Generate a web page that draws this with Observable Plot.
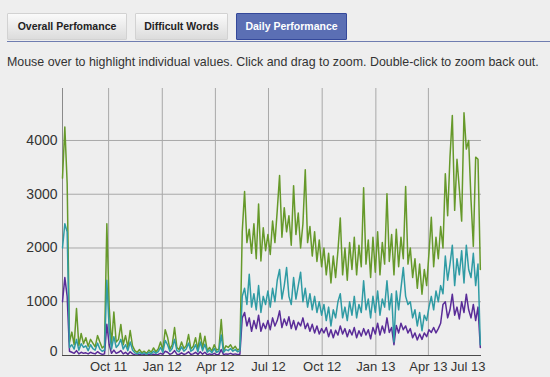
<!DOCTYPE html>
<html>
<head>
<meta charset="utf-8">
<script src="https://cdn.jsdelivr.net/npm/d3@7"></script>
<script src="https://cdn.jsdelivr.net/npm/@observablehq/plot@0.6"></script>
<style>
  html, body { margin: 0; padding: 0; background: #eeeeee; }
  #wrap { position: relative; width: 550px; height: 377px; overflow: hidden; background: #eeeeee; font-family: "Liberation Sans", Arial, sans-serif; }
  .btn { position: absolute; top: 13px; height: 25px; border: 1px solid #d2d2d2; border-radius: 1px;
         background: linear-gradient(#fafafa, #dcdcdc); color: #222; font-weight: bold; font-size: 10.5px;
         line-height: 25px; text-align: center; box-sizing: content-box; }
  .btn.active { background: #5b6fb4; border-color: #34489a; color: #ffffff; }
  #rule { position: absolute; left: 7px; right: 0; top: 41px; height: 0; border-top: 1.5px solid #6f7db0; }
  #note { position: absolute; left: 7px; top: 55px; font-size: 12.4px; color: #333; white-space: nowrap; }
  #chart { position: absolute; left: 0; top: 78px; }
</style>
</head>
<body>
<div id="wrap">
  <div class="btn" style="left:7px;width:118px;">Overall Perfomance</div>
  <div class="btn" style="left:135px;width:91px;">Difficult Words</div>
  <div class="btn active" style="left:236px;width:109px;">Daily Performance</div>
  <div id="rule"></div>
  <div id="note">Mouse over to highlight individual values. Click and drag to zoom. Double-click to zoom back out.</div>
  <div id="chart"></div>
</div>
<script>
// Daily series sampled every 4 days, starting 2011-07-14
const startDate = "2011-07-14";
const stepDays = 4;

const green = [
  3300,4250,3200,250,435,200,875,180,410,220,
  330,170,300,230,160,370,250,140,180,2450,
  900,200,810,250,300,577,200,370,150,465,
  180,90,60,110,50,80,40,100,60,140,
  70,120,250,100,480,340,120,200,520,150,
  110,250,130,180,390,120,170,330,110,415,
  140,360,90,150,80,200,100,120,670,90,
  180,150,200,120,170,100,130,2300,3050,2100,
  2350,1900,2450,1800,2820,1760,2375,1950,2250,1880,
  2500,2100,2700,3350,2200,2750,2300,2600,2050,3160,
  2250,2650,2000,2450,3455,2100,2400,1850,2300,1750,
  2150,1650,2000,1500,1900,1350,1850,1450,1950,2560,
  1500,2000,1400,2100,1600,2200,1500,2050,1650,3120,
  1700,2150,1450,2200,1550,2300,1500,2100,1700,3010,
  1750,2250,1500,2350,1650,2200,1800,3145,1700,2000,
  1450,1800,1250,1700,1140,1600,1300,1900,2570,1650,
  2200,1800,2400,2000,3380,2600,3690,4465,2700,3650,
  3100,2500,4515,3840,4000,2900,2030,3690,3650,1600
];

const teal = [
  2000,2450,2300,150,200,120,300,100,220,150,
  180,90,200,130,100,230,120,80,100,1400,
  500,120,350,150,200,300,120,200,90,250,
  100,50,30,60,30,50,20,60,30,80,
  40,70,150,60,280,200,80,130,300,90,
  70,160,80,120,230,80,110,200,70,250,
  90,210,60,100,50,130,60,80,380,60,
  110,90,130,80,110,70,90,1100,1250,950,
  1510,900,1150,850,1300,800,1100,950,1200,900,
  1250,1000,1400,1600,1050,1300,1635,1100,950,1450,
  1050,1300,1550,1000,1250,900,1150,850,1100,800,
  1000,750,950,650,900,550,850,700,1000,1150,
  700,900,650,1000,750,1100,700,950,800,1390,
  850,1050,700,1100,800,1200,750,1050,900,1390,
  850,1150,250,1200,850,1250,1635,1100,950,1000,
  700,850,550,800,460,750,650,900,1100,850,
  1200,1000,1300,1150,1850,1400,1700,2050,1300,1800,
  1500,1950,1350,2050,1600,1450,1900,1300,1700,200
];

const purple = [
  1000,1450,1100,80,60,40,90,30,60,40,
  50,30,60,40,30,70,40,20,30,580,
  200,40,100,40,60,90,30,60,20,70,
  30,15,10,20,10,15,5,20,10,25,
  10,20,40,20,80,60,20,40,90,25,
  20,50,20,35,70,20,30,60,20,70,
  25,60,15,30,15,40,15,20,110,15,
  30,25,40,20,30,20,25,700,800,550,
  700,450,650,500,750,450,600,500,650,480,
  700,550,650,830,520,680,560,720,500,650,
  480,620,550,700,500,600,450,580,420,550,
  400,500,420,520,350,480,330,470,380,550,
  400,500,350,480,380,520,330,460,360,500,
  380,480,310,520,400,600,380,550,420,700,
  430,520,200,560,420,600,480,550,420,500,
  330,420,290,400,300,420,350,480,430,520,
  420,500,600,950,1000,700,850,1140,750,900,
  680,1000,800,1140,850,700,950,650,900,150
];

const xTickDates = ["2011-10-01","2012-01-01","2012-04-01","2012-07-01","2012-10-01","2013-01-01","2013-04-01","2013-07-01"];
const xTickLabels = ["Oct 11","Jan 12","Apr 12","Jul 12","Oct 12","Jan 13","Apr 13","Jul 13"];
const yTicks = [0, 1000, 2000, 3000, 4000];

const seriesColors = { green: "#66992a", teal: "#2f9ba4", purple: "#5a2c98" };

// build table
const t0 = new Date(startDate + "T00:00:00Z");
const dateAt = i => new Date(t0.getTime() + i * stepDays * 864e5);
const rows = [];
[["green", green], ["purple", purple], ["teal", teal]].forEach(([name, arr]) => {
  arr.forEach((v, i) => rows.push({ series: name, date: dateAt(i), value: v }));
});

const xDomain = [t0, new Date("2013-07-01T00:00:00Z")];
const tickObjs = xTickDates.map((d, i) => ({ date: new Date(d + "T00:00:00Z"), label: xTickLabels[i] }));
const innerTicks = tickObjs.slice(0, -1);
const lastTick = tickObjs.slice(-1);

const font = "'Liberation Sans', Arial, sans-serif";

const chart = Plot.plot({
  width: 550,
  height: 299,
  marginLeft: 62,
  marginRight: 69,
  marginTop: 10,
  marginBottom: 22,
  style: { background: "transparent", fontFamily: font, color: "#333" },
  x: { type: "utc", domain: xDomain, axis: null },
  y: { domain: [0, 4967], axis: null },
  marks: [
    Plot.gridX(innerTicks.map(d => d.date), { stroke: "#a8a8a8", strokeOpacity: 1, strokeWidth: 1 }),
    Plot.gridY(yTicks.filter(d => d > 0), { stroke: "#a8a8a8", strokeOpacity: 1, strokeWidth: 1 }),
    Plot.ruleX([xDomain[0]], { stroke: "#8a8a8a", strokeWidth: 1 }),
    Plot.line(rows.filter(d => d.series === "green"), { x: "date", y: "value", stroke: seriesColors.green, strokeWidth: 1.5, curve: "linear" }),
    Plot.line(rows.filter(d => d.series === "purple"), { x: "date", y: "value", stroke: seriesColors.purple, strokeWidth: 1.5, curve: "linear" }),
    Plot.line(rows.filter(d => d.series === "teal"), { x: "date", y: "value", stroke: seriesColors.teal, strokeWidth: 1.5, curve: "linear" }),
    Plot.ruleY([0], { stroke: "#4a4a4a", strokeWidth: 1 }),
    Plot.text(yTicks.filter(d => d > 0), { x: xDomain[0], y: d => d, text: d => String(d), dx: -5, textAnchor: "end", fontSize: 14, fill: "#333" }),
    Plot.text([0], { x: xDomain[0], y: d => d, text: d => String(d), dx: -5, dy: -4, textAnchor: "end", fontSize: 14, fill: "#333" }),
    Plot.text(innerTicks, { x: "date", y: 0, text: "label", dy: 11, fontSize: 13, fill: "#333" }),
    Plot.text(lastTick, { x: "date", y: 0, text: "label", dy: 11, dx: 4, textAnchor: "end", fontSize: 13, fill: "#333" })
  ]
});
document.getElementById("chart").appendChild(chart);
</script>
</body>
</html>
